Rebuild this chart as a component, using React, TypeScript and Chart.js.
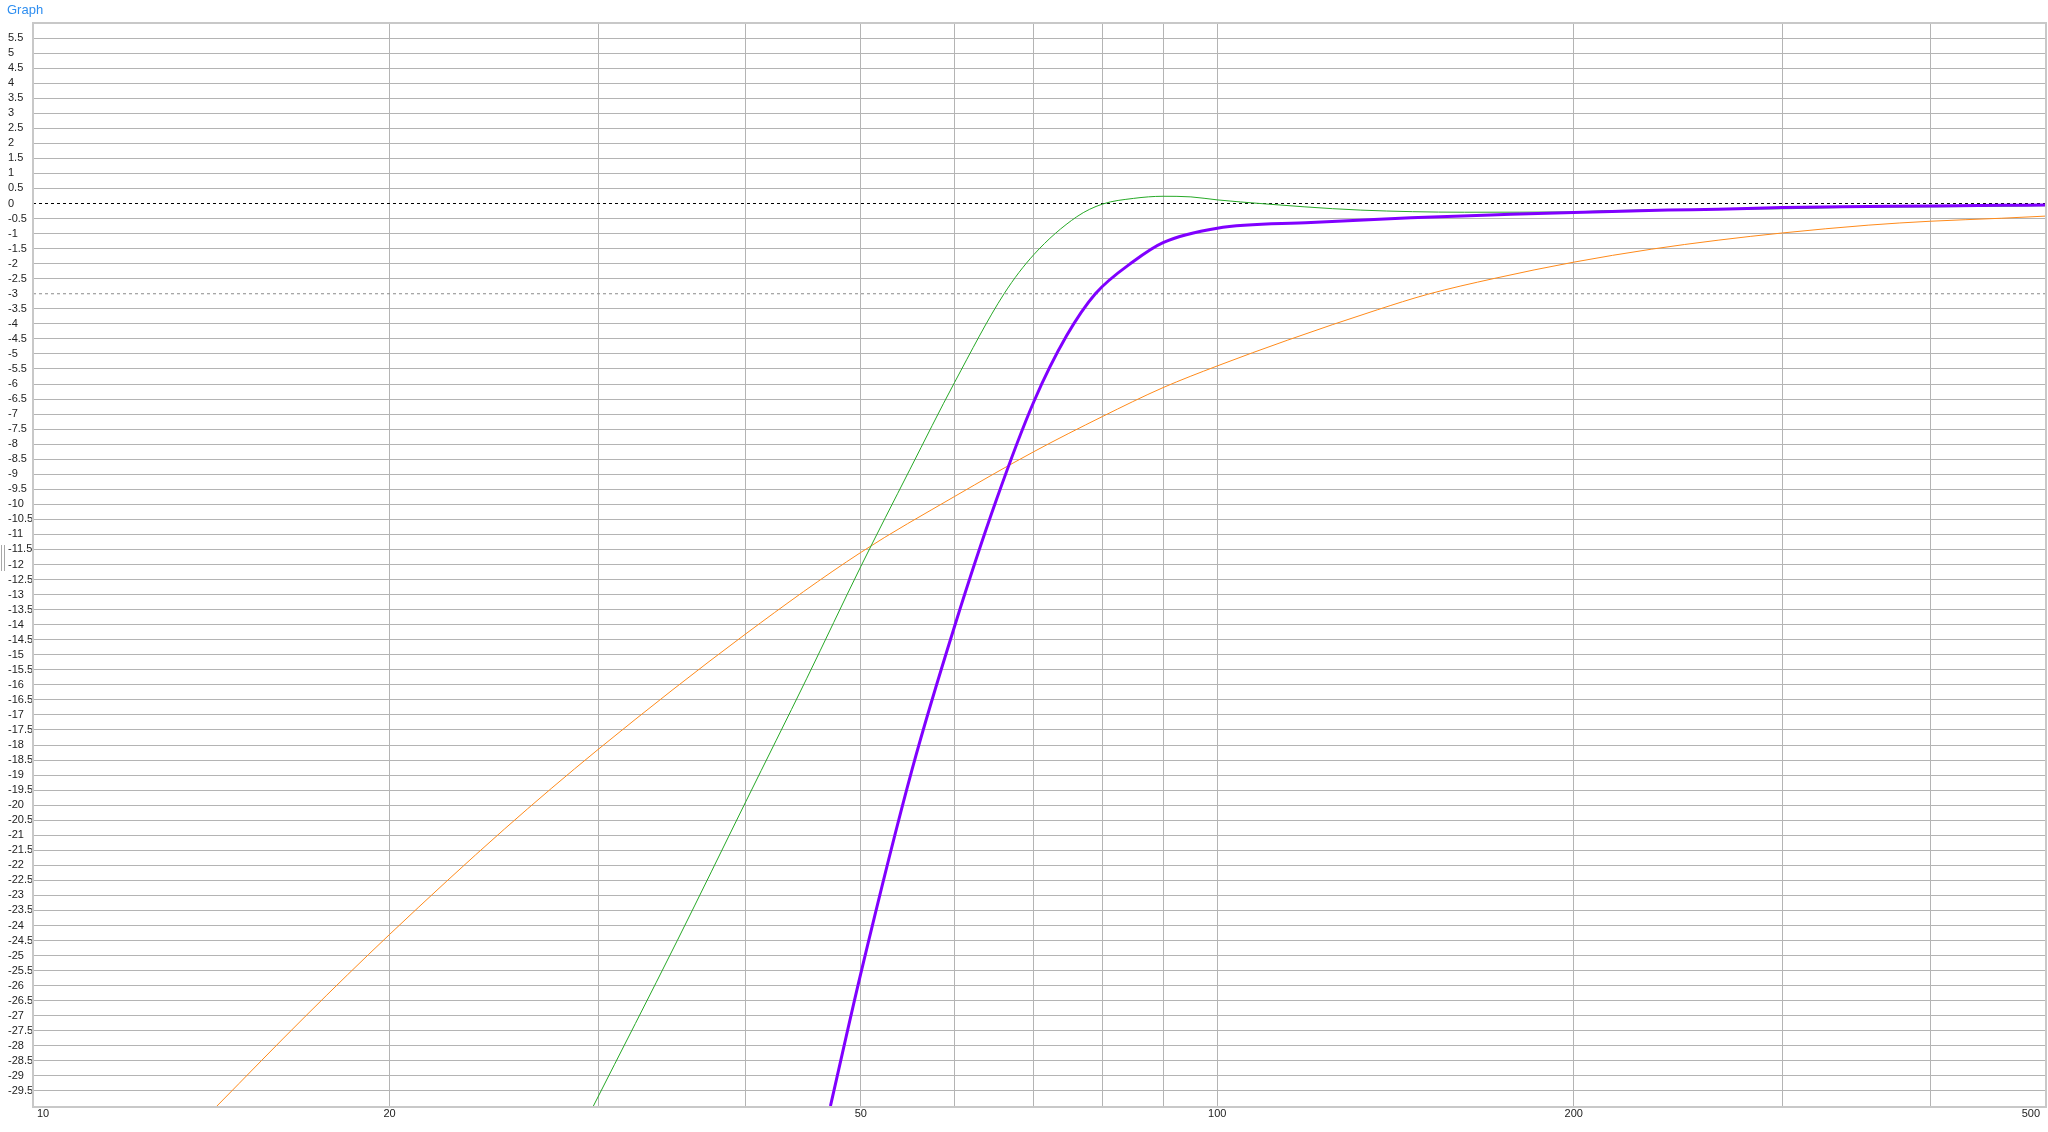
import { useEffect, useRef } from 'react';
import { Chart, registerables } from 'chart.js';

Chart.register(...registerables);

// frequency (Hz) / level (dB)
const purpleFreq = [47.14, 50, 55.25, 60, 65.09, 70, 74.6, 78.9, 85, 90, 100, 120, 145.7, 177, 200, 223.6, 240.3, 264.8, 300, 354.5, 400, 459.5, 500];
const purpleDb = [-30, -25.6, -18.81, -14.06, -9.85, -6.59, -4.4, -3.0, -1.92, -1.3, -0.82, -0.63, -0.47, -0.36, -0.3, -0.25, -0.22, -0.19, -0.13, -0.1, -0.08, -0.06, -0.05];

const greenFreq = [29.73, 35, 40, 45, 50, 55, 60, 66.07, 70, 76.1, 80, 85, 90, 95, 100, 109.5, 118.4, 132.2, 161.7, 200, 212, 306, 340, 400, 460, 500];
const greenDb = [-30, -24.5, -19.87, -15.8, -12.07, -8.85, -5.95, -3.0, -1.7, -0.44, -0.02, 0.17, 0.24, 0.22, 0.12, -0.01, -0.11, -0.22, -0.29, -0.28, -0.24, -0.17, -0.13, -0.11, -0.09, -0.07];

const orangeFreq = [14.3, 17, 20, 25, 30, 40, 50, 60, 70, 80, 90, 100, 114.7, 136.6, 150.5, 171.4, 200, 232.5, 264.8, 300, 354.5, 400, 459.5, 500];
const orangeDb = [-30, -27, -24.3, -20.8, -18.15, -14.3, -11.6, -9.74, -8.25, -7.08, -6.12, -5.4, -4.54, -3.53, -3.02, -2.49, -1.95, -1.52, -1.22, -0.98, -0.72, -0.59, -0.49, -0.42];

const xGridValues = [10, 20, 30, 40, 50, 60, 70, 80, 90, 100, 200, 300, 400, 500];
const xLabelValues = [10, 20, 50, 100, 200, 500];
const refLevels = [0, -3];
const refColors = ['#000000', '#8a8a8a'];

const yMin = -30;
const yMax = 6;
const yStep = 0.5;

const FONT = "'Liberation Sans', Arial, sans-serif";

const toPoints = (f: number[], d: number[]) => f.map((x, i) => ({ x, y: d[i] }));

const framePlugin = {
	id: 'frame',
	afterDraw(chart: any) {
		const { ctx, chartArea: a, scales } = chart;
		ctx.save();

		// plot border
		ctx.strokeStyle = '#c8c8c8';
		ctx.lineWidth = 2;
		ctx.strokeRect(a.left, a.top, a.right - a.left + 1, a.bottom - a.top + 1);

		// x labels, first and last kept inside the plot
		ctx.fillStyle = '#222';
		ctx.font = `11px ${FONT}`;
		ctx.textBaseline = 'middle';
		xLabelValues.forEach((v, i) => {
			let x = scales.x.getPixelForValue(v);
			if (i === 0) {
				ctx.textAlign = 'left';
				x += 4;
			} else if (i === xLabelValues.length - 1) {
				ctx.textAlign = 'right';
				x -= 5;
			} else {
				ctx.textAlign = 'center';
			}
			ctx.fillText(String(v), x, a.bottom + 8);
		});

		// splitter grip at the left edge
		ctx.strokeStyle = '#a8a8a8';
		ctx.lineWidth = 1;
		ctx.beginPath();
		ctx.moveTo(1.5, 545);
		ctx.lineTo(1.5, 571);
		ctx.moveTo(4.5, 545);
		ctx.lineTo(4.5, 571);
		ctx.stroke();

		// title
		ctx.fillStyle = '#2e8ef0';
		ctx.font = `13px ${FONT}`;
		ctx.textAlign = 'left';
		ctx.textBaseline = 'alphabetic';
		ctx.fillText('Graph', 7, 14);
		ctx.restore();
	},
};

export default function App() {
	const chartRef = useRef<HTMLCanvasElement>(null);

	useEffect(() => {
		const ctx = chartRef.current!.getContext('2d')!;

		const yTickValues: number[] = [];
		for (let v = yMin; v <= yMax; v += yStep) yTickValues.push(v);

		const line = (data: any, color: string, width: number) => ({
			data,
			borderColor: color,
			borderWidth: width,
			pointRadius: 0,
			fill: false,
			cubicInterpolationMode: 'monotone',
		});

		const chartInstance = new Chart(ctx, {
			type: 'line',
			data: {
				datasets: [
					line(toPoints(purpleFreq, purpleDb), '#8000ff', 3),
					line(toPoints(greenFreq, greenDb), '#26a826', 1),
					line(toPoints(orangeFreq, orangeDb), '#ff8a1a', 1),
					...refLevels.map((lvl, i) => ({
						...line([{ x: 10, y: lvl }, { x: 500, y: lvl }], refColors[i], 1),
						borderDash: [3, 3],
					})),
				],
			},
			options: {
				animation: false,
				responsive: true,
				maintainAspectRatio: false,
				events: [],
				layout: { padding: { left: 8, top: 23, right: 3, bottom: 0 } },
				plugins: {
					legend: { display: false },
					tooltip: { enabled: false },
				},
				scales: {
					x: {
						type: 'logarithmic',
						min: 10,
						max: 500,
						afterBuildTicks: (scale: any) => {
							scale.ticks = xGridValues.map((value) => ({ value }));
						},
						afterFit: (scale: any) => {
							scale.height = 26;
						},
						ticks: { display: false },
						border: { display: false },
						grid: { color: '#b4b4b4', lineWidth: 1, drawTicks: false },
					},
					y: {
						type: 'linear',
						min: yMin,
						max: yMax,
						afterBuildTicks: (scale: any) => {
							scale.ticks = yTickValues.map((value) => ({ value }));
						},
						afterFit: (scale: any) => {
							scale.width = 25;
						},
						ticks: {
							autoSkip: false,
							crossAlign: 'far',
							padding: 0,
							color: '#222',
							font: { family: FONT, size: 11 },
							callback: (v: any) => (v === yMin || v === yMax ? '' : String(v)),
						},
						border: { display: false },
						grid: {
							drawTicks: false,
							lineWidth: 1,
							color: (c: any) =>
								refLevels.includes(c.tick?.value) ? 'rgba(0,0,0,0)' : '#b4b4b4',
						},
					},
				},
			},
			plugins: [framePlugin],
		} as any);

		return () => {
			chartInstance.destroy();
		};
	}, []);

	return (
		<div style={{ position: 'absolute', left: 0, top: 0, width: 2048, height: 1132, background: '#fff' }}>
			<canvas ref={chartRef} />
		</div>
	);
}
